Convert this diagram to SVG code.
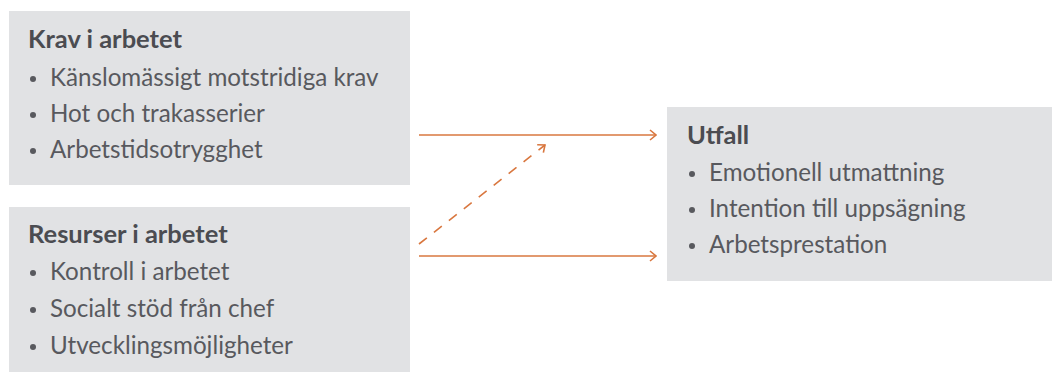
<svg xmlns="http://www.w3.org/2000/svg" width="1052" height="372" viewBox="0 0 1052 372">
  <defs>
    <style>
      .box { fill: #e1e2e4; }
      .head { font-family: Lato, "Liberation Sans", sans-serif; font-size: 25.5px; font-weight: bold; fill: #4b4c51; }
      .item { font-family: Lato, "Liberation Sans", sans-serif; font-size: 24.2px; fill: #58595e; }
      .dot { fill: #58595e; }
      .link { stroke: #d9773f; stroke-width: 1.6; fill: none; }
      .dash { stroke-dasharray: 10 9; }
    </style>
    <marker id="arrow" viewBox="0 0 10 12" refX="9" refY="6" markerWidth="10" markerHeight="12" markerUnits="userSpaceOnUse" orient="auto">
      <path d="M3,1 L9,6 L3,11" fill="none" stroke="#d9773f" stroke-width="1.6"/>
    </marker>
  </defs>

  <!-- Job demands -->
  <g id="krav">
    <rect class="box" x="9" y="11" width="401" height="174"/>
    <text class="head" x="28" y="48">Krav i arbetet</text>
    <circle class="dot" cx="33" cy="79" r="3"/>
    <text class="item" x="50" y="86">Känslomässigt motstridiga krav</text>
    <circle class="dot" cx="33" cy="115" r="3"/>
    <text class="item" x="50" y="122">Hot och trakasserier</text>
    <circle class="dot" cx="33" cy="151" r="3"/>
    <text class="item" x="50" y="158">Arbetstidsotrygghet</text>
  </g>

  <!-- Job resources -->
  <g id="resurser">
    <rect class="box" x="9" y="207" width="401" height="165"/>
    <text class="head" x="28" y="243">Resurser i arbetet</text>
    <circle class="dot" cx="33" cy="273" r="3"/>
    <text class="item" x="50" y="280">Kontroll i arbetet</text>
    <circle class="dot" cx="33" cy="310" r="3"/>
    <text class="item" x="50" y="317">Socialt stöd från chef</text>
    <circle class="dot" cx="33" cy="347" r="3"/>
    <text class="item" x="50" y="354">Utvecklingsmöjligheter</text>
  </g>

  <!-- Outcomes -->
  <g id="utfall">
    <rect class="box" x="667" y="107" width="385" height="174"/>
    <text class="head" x="687" y="144">Utfall</text>
    <circle class="dot" cx="692" cy="174" r="3"/>
    <text class="item" x="709" y="181">Emotionell utmattning</text>
    <circle class="dot" cx="692" cy="210" r="3"/>
    <text class="item" x="709" y="217">Intention till uppsägning</text>
    <circle class="dot" cx="692" cy="246" r="3"/>
    <text class="item" x="709" y="253">Arbetsprestation</text>
  </g>

  <!-- Connectors -->
  <g id="connectors">
    <line class="link" x1="419" y1="135" x2="656" y2="135" marker-end="url(#arrow)"/>
    <line class="link" x1="419" y1="256" x2="656" y2="256" marker-end="url(#arrow)"/>
    <line class="link dash" x1="419" y1="244" x2="545" y2="145" marker-end="url(#arrow)"/>
  </g>
</svg>
